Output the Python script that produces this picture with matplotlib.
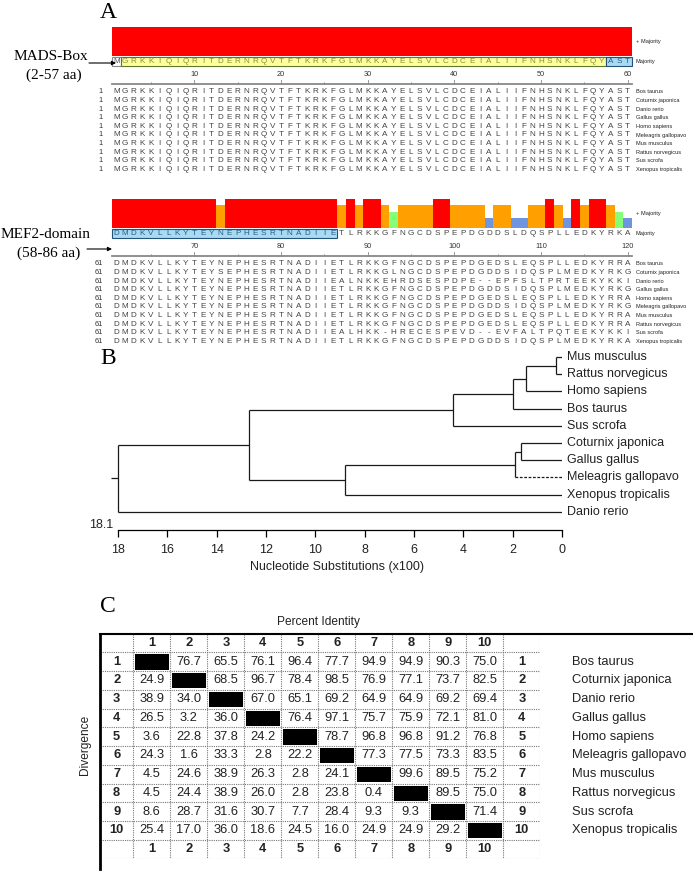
import matplotlib
matplotlib.use("Agg")
import matplotlib.pyplot as plt
from matplotlib.patches import Rectangle

W, H = 693, 884

# ---------------- data ----------------
species = ["Bos taurus", "Coturnix japonica", "Danio rerio", "Gallus gallus", "Homo sapiens",
           "Meleagris gallopavo", "Mus musculus", "Rattus norvegicus", "Sus scrofa",
           "Xenopus tropicalis"]

seq_1_60 = ["MGRKKIQIQRITDERNRQVTFTKRKFGLMKKAYELSVLCDCEIALIIFNHSNKLFQYAST"] * 10
majority_1 = "MGRKKIQIQRITDERNRQVTFTKRKFGLMKKAYELSVLCDCEIALIIFNHSNKLFQYAST"
cons_1 = "r" * 60

seq_61_120 = [
    "DMDKVLLKYTEYNEPHESRTNADIIETLRKKGFNGCDSPEPDGEDSLEQSPLLEDKYRRA",
    "DMDKVLLKYTEYSEPHESRTNADIIETLRKKGLNGCDSPEPDGDDSIDQSPLMEDKYRKG",
    "DMDKVLLKYTEYNEPHESRTNADIIEALNKKEHRDSESPDPE--EPFSLTPRTEEKYKKI",
    "DMDKVLLKYTEYNEPHESRTNADIIETLRKKGFNGCDSPEPDGDDSIDQSPLMEDKYRKG",
    "DMDKVLLKYTEYNEPHESRTNADIIETLRKKGFNGCDSPEPDGEDSLEQSPLLEDKYRRA",
    "DMDKVLLKYTEYNEPHESRTNADIIETLRKKGFNGCDSPEPDGDDSIDQSPLMEDKYRKG",
    "DMDKVLLKYTEYNEPHESRTNADIIETLRKKGFNGCDSPEPDGEDSLEQSPLLEDKYRRA",
    "DMDKVLLKYTEYNEPHESRTNADIIETLRKKGFNGCDSPEPDGEDSLEQSPLLEDKYRRA",
    "DMDKVLLKYTEYNEPHESRTNADIIEALHKK-HRECESPEVD--EVFALTPQTEEKYKKI",
    "DMDKVLLKYTEYNEPHESRTNADIIETLRKKGFNGCDSPEPDGDDSIDQSPLMEDKYRKA",
]
majority_2 = "DMDKVLLKYTEYNEPHESRTNADIIETLRKKGFNGCDSPEPDGDDSLDQSPLLEDKYRKA"
# conservation class per column (r=identical, o, g, b = decreasing)
cons_2 = ("rrrrrrrrrrrr" + "o" + "rrrrrrrrrrrrr" + "o" + "r" + "o" + "rr" + "o" + "g"
          + "oooo" + "rr" + "oooo" + "b" + "oo" + "bb" + "oo" + "r" + "o" + "b" + "r"
          + "o" + "rr" + "o" + "g" + "b")

# highlighted domains on the majority line (first, last, kind)
boxes_1 = [(1, 1, "plain"), (2, 57, "mads"), (58, 60, "mef2")]
boxes_2 = [(61, 86, "mef2")]

level_h = {"r": 1.0, "o": 0.78, "g": 0.55, "b": 0.33}
level_c = {"r": "#ff0000", "o": "#ffa000", "g": "#85ff78", "b": "#6f95e0"}

# tree: (node depth, children); leaves are names
tree = (18.0, [(12.7, [(4.4, [(2.0, [(1.45, [(0.25, ["Mus musculus", "Rattus norvegicus"]),
                                             "Homo sapiens"]),
                                    "Bos taurus"]),
                             "Sus scrofa"]),
                       (8.8, [(1.9, [(1.65, ["Coturnix japonica", "Gallus gallus"]),
                                     "Meleagris gallopavo"]),
                              "Xenopus tropicalis"])]),
               "Danio rerio"])
leaf_order = ["Mus musculus", "Rattus norvegicus", "Homo sapiens", "Bos taurus", "Sus scrofa",
              "Coturnix japonica", "Gallus gallus", "Meleagris gallopavo", "Xenopus tropicalis",
              "Danio rerio"]
dashed = ["Meleagris gallopavo"]
tree_ticks = [18, 16, 14, 12, 10, 8, 6, 4, 2, 0]

# percent identity (upper) / divergence (lower)
ident = [
    [None, 76.7, 65.5, 76.1, 96.4, 77.7, 94.9, 94.9, 90.3, 75.0],
    [24.9, None, 68.5, 96.7, 78.4, 98.5, 76.9, 77.1, 73.7, 82.5],
    [38.9, 34.0, None, 67.0, 65.1, 69.2, 64.9, 64.9, 69.2, 69.4],
    [26.5, 3.2, 36.0, None, 76.4, 97.1, 75.7, 75.9, 72.1, 81.0],
    [3.6, 22.8, 37.8, 24.2, None, 78.7, 96.8, 96.8, 91.2, 76.8],
    [24.3, 1.6, 33.3, 2.8, 22.2, None, 77.3, 77.5, 73.3, 83.5],
    [4.5, 24.6, 38.9, 26.3, 2.8, 24.1, None, 99.6, 89.5, 75.2],
    [4.5, 24.4, 38.9, 26.0, 2.8, 23.8, 0.4, None, 89.5, 75.0],
    [8.6, 28.7, 31.6, 30.7, 7.7, 28.4, 9.3, 9.3, None, 71.4],
    [25.4, 17.0, 36.0, 18.6, 24.5, 16.0, 24.9, 24.9, 29.2, None],
]

SANS = ["Liberation Sans", "DejaVu Sans"]
SERIF = ["Liberation Serif", "DejaVu Serif"]

fig = plt.figure(figsize=(W / 100, H / 100), dpi=100)


def px_axes(x0, y0, x1, y1):
    return fig.add_axes([x0 / W, 1 - y1 / H, (x1 - x0) / W, (y1 - y0) / H])


# ---------------- panel A ----------------
SEQ_X0, CW = 112, 520 / 60


def draw_block(y0, start, seqs, majority, cons, boxes, labels, arrow_y):
    hh = 160
    ax = px_axes(0, y0, W, y0 + hh)
    x_lo = start - 0.5 - SEQ_X0 / CW
    ax.set_xlim(x_lo, x_lo + W / CW)
    ax.set_ylim(hh, 0)
    ax.axis("off")
    n = len(majority)
    cols = list(range(start, start + n))
    end = start + n - 1

    # consensus bars
    ax.bar(cols, [-level_h[c] * 29 for c in cons], bottom=36, width=1.0,
           color=[level_c[c] for c in cons], linewidth=0)
    xr = end + 0.5 + 4 / CW
    ax.text(xr, 22, "+ Majority", fontsize=4.1, family=SANS, va="center", color="#222")

    # majority line with domain boxes
    for a, b, kind in boxes:
        if kind == "mads":
            fc, ec = "#ffff9c", "#5c7a2e"
        elif kind == "mef2":
            fc, ec = "#a8daf2", "#25507a"
        else:
            fc, ec = "white", "#888888"
        ax.add_patch(Rectangle((a - 0.5, 37.5), b - a + 1, 9, facecolor=fc, edgecolor=ec,
                               linewidth=0.8))
    for c, ch in zip(cols, majority):
        col = "#444"
        for a, b, kind in boxes:
            if a <= c <= b:
                col = {"mads": "#8c8c3a", "mef2": "#2a5c8c", "plain": "#555"}[kind]
        ax.text(c, 42, ch, fontsize=5.9, family=SANS, ha="center", va="center", color=col)
    ax.text(xr, 42, "Majority", fontsize=4.1, family=SANS, va="center", color="#222")

    # ruler
    ax.plot([start - 0.5, end + 0.5], [64.5, 64.5], color="#888", lw=1.3)
    for c in cols:
        if c % 10 == 0:
            ax.text(c, 55, str(c), fontsize=5.3, family=SANS, ha="center", va="center",
                    color="#333")
            ax.plot([c, c], [60, 64.5], color="#888", lw=0.6)
        elif c % 5 == 0:
            ax.plot([c, c], [62, 64.5], color="#888", lw=0.5)

    # aligned sequences
    for i, (s, name) in enumerate(zip(seqs, species)):
        y = 72 + 8.6 * i
        ax.text(x_lo + 103 / CW, y, str(start), fontsize=5.3, family=SANS, ha="right",
                va="center", color="#333")
        for c, ch in zip(cols, s):
            ax.text(c, y, ch, fontsize=5.9, family=SANS, ha="center", va="center",
                    color="#444")
        ax.text(xr, y, name, fontsize=4.1, family=SANS, va="center", color="#222")

    # domain label + arrow
    for text, px, dy in labels:
        ax.text(x_lo + px / CW, 37 + dy, text, fontsize=11, family=SERIF, va="center")
    ay = 37 + arrow_y[1]
    ax.annotate("", xy=(x_lo + arrow_y[2] / CW, ay), xytext=(x_lo + arrow_y[0] / CW, ay),
                arrowprops=dict(arrowstyle="-|>", lw=0.8, color="black", mutation_scale=6,
                                shrinkA=0, shrinkB=0))
    return ax


draw_block(20, 1, seq_1_60, majority_1, cons_1, boxes_1,
           [("MADS-Box", 14, 0), ("(2-57 aa)", 26, 18)], (89, 6, 116))
draw_block(192, 61, seq_61_120, majority_2, cons_2, boxes_2,
           [("MEF2-domain", 1, 6), ("(58-86 aa)", 17, 24)], (87, 20, 112))
fig.text(100 / W, 1 - 13 / H, "A", fontsize=17, family=SERIF, va="center")

# ---------------- panel B ----------------
X0, X18 = 562, 118
UPX = (X0 - X18) / 18
LEAF0, LSTEP = 357, 17.2
axb = px_axes(X0 - 18.27 * UPX, 345, X0, 530)
axb.set_xlim(18.27, 0)
axb.set_ylim((530 - LEAF0) / LSTEP, (345 - LEAF0) / LSTEP)
line_kw = dict(color="#1a1a1a", lw=0.9, solid_capstyle="butt")


def draw_clade(node, parent_h):
    if isinstance(node, str):
        y = leaf_order.index(node)
        ls = (0, (2.2, 1.3)) if node in dashed else "-"
        axb.plot([parent_h, 0], [y, y], ls=ls, **line_kw)
        axb.text(-0.22, y, node, fontsize=9, family=SANS, va="center", ha="left",
                 color="#222", clip_on=False)
        return y
    h, kids = node
    ys = [draw_clade(k, h) for k in kids]
    axb.plot([h, h], [min(ys), max(ys)], **line_kw)
    y = (min(ys) + max(ys)) / 2
    axb.plot([parent_h, h], [y, y], **line_kw)
    return y


draw_clade(tree, 18.27)
for side in ["top", "left", "right"]:
    axb.spines[side].set_visible(False)
axb.spines["bottom"].set_bounds(0, 18)
axb.spines["bottom"].set_linewidth(0.9)
axb.set_yticks([])
axb.set_xticks(tree_ticks)
axb.set_xticklabels([str(t) for t in tree_ticks], fontsize=9, family=SANS, color="#222")
axb.tick_params(axis="x", direction="out", length=5, width=0.9, pad=5)
axb.set_xlabel("Nucleotide Substitutions (x100)", fontsize=9, family=SANS, color="#222",
               labelpad=4)
axb.text(18.2, 9.75, "18.1", fontsize=9, family=SANS, ha="right", va="center", color="#222")
axb.patch.set_alpha(0)
fig.text(100 / W, 1 - 358 / H, "B", fontsize=17, family=SERIF, va="center")

# ---------------- panel C ----------------
TX0, TY0, HDR, CWC, RH = 100, 633.6, 33.3, 37, 18.75
TW, TH = HDR + 11 * CWC, 12 * RH
axc = px_axes(TX0, TY0, TX0 + TW, TY0 + TH)
axc.set_xlim(0, TW)
axc.set_ylim(TH, 0)
axc.axis("off")

grid_kw = dict(color="#777", lw=0.8, ls=(0, (1, 1)))
for j in range(11):
    axc.plot([HDR + j * CWC] * 2, [0, TH], **grid_kw)
axc.plot([TW, TW], [0, TH], **grid_kw)
for k in range(1, 13):
    axc.plot([0, TW], [k * RH] * 2, **grid_kw)
axc.plot([0, W - TX0 - 1], [0, 0], color="black", lw=1.5, clip_on=False)
axc.plot([0, 0], [0, TH + 10], color="black", lw=2, clip_on=False)

num_kw = dict(fontsize=9.3, family=SANS, ha="center", va="center", color="#222")
for j in range(10):
    cx = HDR + (j + 0.5) * CWC
    axc.text(cx, 0.5 * RH, str(j + 1), fontweight="bold", **num_kw)
    axc.text(cx, 11.5 * RH, str(j + 1), fontweight="bold", **num_kw)
for i, row in enumerate(ident):
    cy = (i + 1.5) * RH
    axc.text(HDR / 2, cy, str(i + 1), fontweight="bold", **num_kw)
    axc.text(HDR + 10.5 * CWC, cy, str(i + 1), fontweight="bold", **num_kw)
    axc.text(472, cy, species[i], fontsize=9.3, family=SANS, va="center", color="#222",
             clip_on=False)
    for j, v in enumerate(row):
        x = HDR + j * CWC
        if v is None:
            axc.add_patch(Rectangle((x + 2, cy - RH / 2 + 2), CWC - 3.5, RH - 3.5,
                                    facecolor="black", edgecolor="none"))
        else:
            axc.text(x + CWC / 2, cy, f"{v:.1f}", **num_kw)

axc.text(219, -12, "Percent Identity", fontsize=8.6, family=SANS, ha="center", va="center",
         color="#222", clip_on=False)
axc.text(-15, 111, "Divergence", fontsize=8.6, family=SANS, ha="center", va="center",
         rotation=90, color="#222", clip_on=False)
fig.text(100 / W, 1 - 606 / H, "C", fontsize=17, family=SERIF, va="center")

fig.savefig("out.png", dpi=100)
